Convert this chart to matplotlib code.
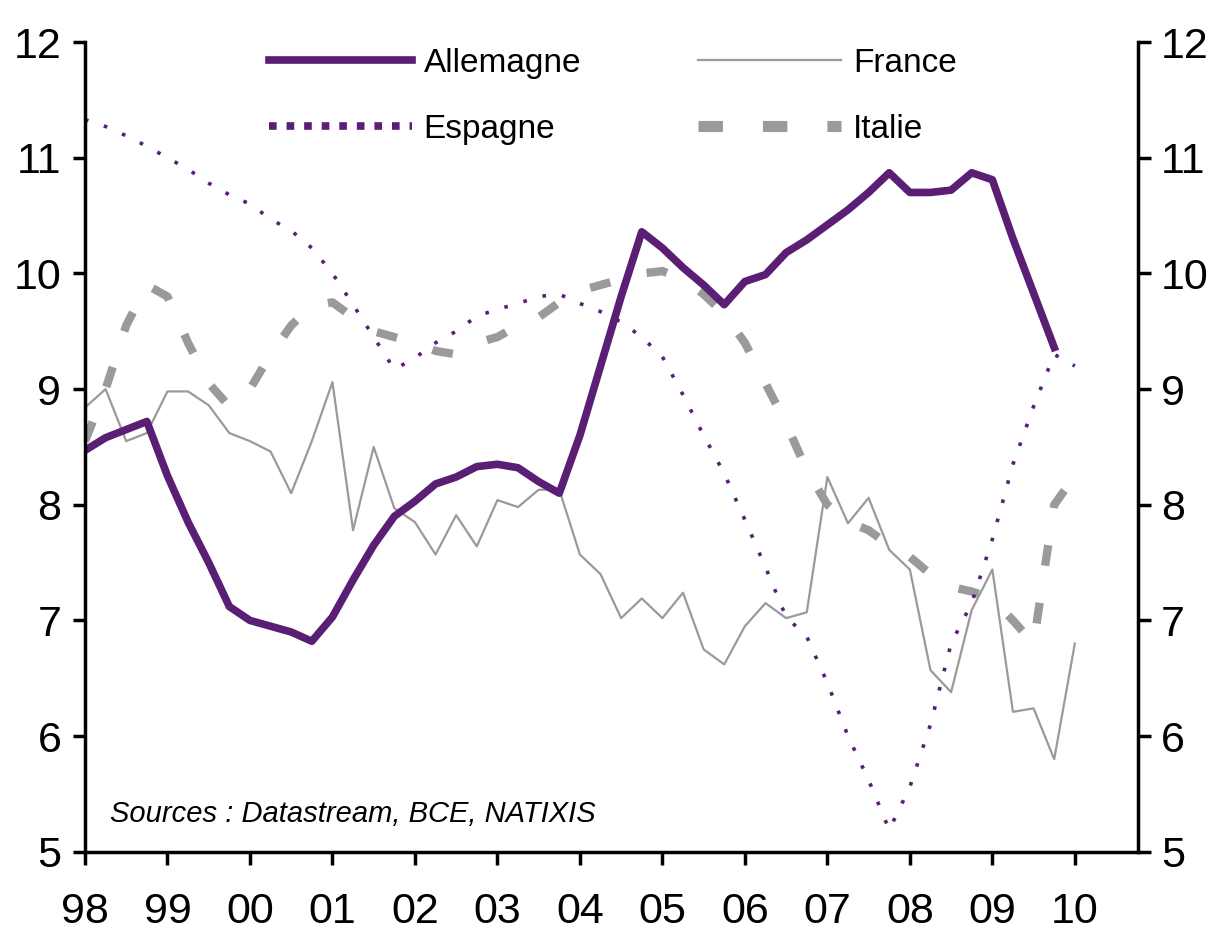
import numpy as np
import matplotlib.pyplot as plt
from matplotlib.lines import Line2D

plt.rcParams['font.family'] = ['Liberation Sans', 'DejaVu Sans']

# quarterly points, 1998 Q1 .. 2010 Q1
t = 1998 + np.arange(49) / 4.0

allemagne = [8.47, 8.58, 8.65, 8.72, 8.25, 7.85, 7.5, 7.12,
             7.0, 6.95, 6.9, 6.82, 7.03, 7.35, 7.65, 7.9,
             8.03, 8.18, 8.24, 8.33, 8.35, 8.32, 8.2, 8.1,
             8.6, 9.2, 9.8, 10.36, 10.22, 10.05, 9.9, 9.73,
             9.93, 9.99, 10.18, 10.29, 10.42, 10.55, 10.7, 10.87,
             10.7, 10.7, 10.72, 10.87, 10.81, 10.3, 9.83, 9.36]

france = [8.84, 9.0, 8.55, 8.62, 8.98, 8.98, 8.86, 8.62,
          8.55, 8.46, 8.1, 8.55, 9.06, 7.78, 8.5, 7.97,
          7.85, 7.57, 7.91, 7.64, 8.04, 7.98, 8.13, 8.13,
          7.57, 7.4, 7.02, 7.19, 7.02, 7.24, 6.75, 6.62,
          6.95, 7.15, 7.02, 7.07, 8.24, 7.84, 8.06, 7.61,
          7.44, 6.57, 6.38, 7.09, 7.44, 6.21, 6.24, 5.8, 6.8]

espagne = [11.33, 11.27, 11.19, 11.1, 11.0, 10.9, 10.78, 10.68,
           10.6, 10.47, 10.37, 10.22, 10.0, 9.73, 9.45, 9.17,
           9.27, 9.4, 9.5, 9.63, 9.69, 9.74, 9.8, 9.82,
           9.74, 9.67, 9.58, 9.45, 9.28, 8.95, 8.6, 8.27,
           7.87, 7.46, 7.03, 6.86, 6.46, 6.0, 5.62, 5.19,
           5.56, 6.1, 6.8, 7.15, 7.7, 8.35, 8.85, 9.3, 9.2]

italie = [8.55, 9.0, 9.55, 9.9, 9.8, 9.4, 9.05, 8.85,
          9.0, 9.3, 9.55, 9.72, 9.75, 9.62, 9.5, 9.45,
          9.4, 9.33, 9.3, 9.4, 9.45, 9.55, 9.62, 9.75,
          9.85, 9.9, 9.95, 10.0, 10.02, 9.95, 9.82, 9.65,
          9.4, 9.05, 8.7, 8.3, 8.0, 7.85, 7.78, 7.65,
          7.55, 7.4, 7.29, 7.25, 7.19, 7.0, 6.8, 8.0, 8.25]

year_ticks = np.arange(1998, 2011)
year_labels = ['98', '99', '00', '01', '02', '03', '04', '05', '06', '07', '08', '09', '10']

purple = '#5a1f74'
grey = '#9a9a9a'

fig = plt.figure(figsize=(12.14, 9.35), dpi=100)
ax = fig.add_axes([0.070, 0.089, 0.867, 0.866])

ax.plot(t[:len(italie)], italie, color=grey, lw=6, dashes=(2.5, 4.5))
ax.plot(t[:len(france)], france, color=grey, lw=1.6)
ax.plot(t[:len(espagne)], espagne, color=purple, lw=2.6, dashes=(1.0, 4.5))
ax.plot(t[:len(allemagne)], allemagne, color=purple, lw=5.5, solid_joinstyle='round')

ax.set_xlim(1998, 2010.76)
ax.set_ylim(5, 12)
ax.set_xticks(year_ticks)
ax.set_xticklabels(year_labels)
ax.set_yticks(range(5, 13))

ax.spines['top'].set_visible(False)
for s in ['left', 'right', 'bottom']:
    ax.spines[s].set_linewidth(2.5)

ax.tick_params(axis='both', direction='out', length=9, width=2.5, labelsize=31, colors='black')
ax.tick_params(axis='x', pad=20)
ax.tick_params(axis='y', left=True, right=True, labelleft=True, labelright=True, pad=8)

# legend keys drawn a bit heavier than the lines, like the original
handles = [Line2D([], [], color=purple, lw=5.5),
           Line2D([], [], color=purple, lw=5.5, dashes=(1.0, 1.3)),
           Line2D([], [], color=grey, lw=1.6),
           Line2D([], [], color=grey, lw=8, dashes=(2.2, 3.6))]
labels = ['Allemagne', 'Espagne', 'France', 'Italie']
ax.legend(handles, labels, ncol=2, loc='upper left',
          bbox_to_anchor=(0.146, 1.03), frameon=False, fontsize=24,
          handlelength=4.3, columnspacing=3.5, labelspacing=1.05, handletextpad=0.35)

ax.text(0.024, 0.037, 'Sources : Datastream, BCE, NATIXIS', transform=ax.transAxes,
        fontsize=21, style='italic', ha='left', va='baseline')

fig.savefig('out.png', dpi=100)
